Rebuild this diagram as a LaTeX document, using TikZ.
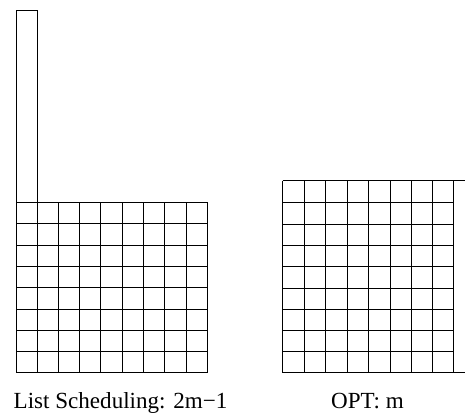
\documentclass[tikz,border=0pt]{standalone}
\usepackage{fontspec}
\setmainfont{Liberation Serif}
\begin{document}
\begin{tikzpicture}[x=0.75pt,y=-0.75pt,
  gridline/.style={draw=black,line width=1pt},
  caption/.style={font=\fontsize{17.3}{20}\selectfont,anchor=base,inner sep=0pt}]
\useasboundingbox (0,0) rectangle (465,414);
\clip (0,0) rectangle (465,414);
% List scheduling grid: 9 columns x 8 rows
\foreach \x in {16,37,58,79,100,122,143,164,186,207}{
  \draw[gridline] (\x.5,202.5) -- (\x.5,372.5);
}
\foreach \y in {202,223,245,266,287,309,330,351,372}{
  \draw[gridline] (16.5,\y.5) -- (207.5,\y.5);
}
% long job
\draw[gridline] (16.5,202.5) rectangle (37.5,10.5);
% OPT grid: 8 columns x 9 rows plus long job column
\foreach \x in {282,304,325,347,368,390,411,432,453}{
  \draw[gridline] (\x.5,180.5) -- (\x.5,372.5);
}
\foreach \y in {202,224,245,266,288,309,330,351}{
  \draw[gridline] (282.5,\y.5) -- (453.5,\y.5);
}
\draw[gridline] (453.5,180.5) rectangle (475,372.5);
\draw[gridline] (282.5,180.5) -- (453.5,180.5);
\draw[gridline] (282.5,372.5) -- (453.5,372.5);
\node[caption] (ls) at (120.5,408) {List Scheduling: 2m−1};
\node[caption] (opt) at (367.5,408) {OPT: m};
\end{tikzpicture}
\end{document}
